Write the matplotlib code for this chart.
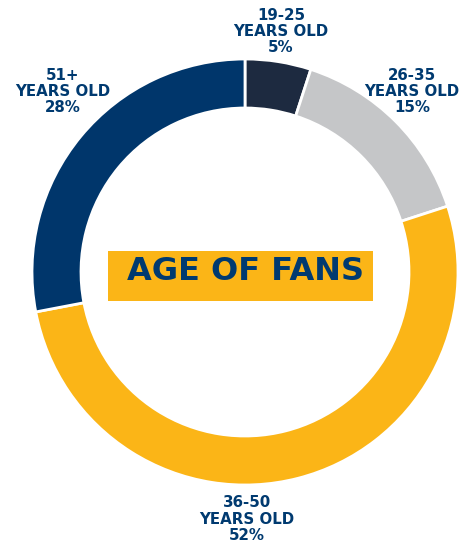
import matplotlib
matplotlib.use("Agg")
import matplotlib.pyplot as plt
from matplotlib.patches import Rectangle

# age groups, clockwise from 12 o'clock
ages = ["19-25", "26-35", "36-50", "51+"]
shares = [5, 15, 52, 28]
colors = ["#1d2a40", "#c5c6c8", "#fbb517", "#00366b"]

NAVY = "#003a70"
W, H = 464, 546

fig = plt.figure(figsize=(W / 100, H / 100), dpi=100)
ax = fig.add_axes([0, 0, 1, 1])

cx, cy, r = 245, H - 272, 213
ax.pie(shares, colors=colors, startangle=90, counterclock=False,
       center=(cx, cy), radius=r, frame=True,
       wedgeprops=dict(width=49, edgecolor="white", linewidth=2))
ax.set_xlim(0, W)
ax.set_ylim(0, H)
ax.set_aspect("equal")
ax.axis("off")

# label positions (x, top line y) in pixels from the top
label_pos = {"19-25": (281, 15), "26-35": (412, 75), "36-50": (247, 503), "51+": (63, 75)}
for age, pct in zip(ages, shares):
    x, y = label_pos[age]
    for i, line in enumerate([age, "YEARS OLD", f"{pct}%"]):
        ax.text(x, H - (y + 16 * i), line, ha="center", va="center",
                fontsize=10.8, fontweight="bold", family="DejaVu Sans", color=NAVY)

# title box in the middle of the ring
ax.add_patch(Rectangle((108, H - 301), 265, 50, facecolor="#fbb517",
                       edgecolor="none", zorder=3))
ax.text(246, H - 271, "AGE OF FANS", ha="center", va="center", zorder=4,
        fontsize=23, fontweight="bold", family="DejaVu Sans", color=NAVY)

fig.savefig("out.png", dpi=100)
